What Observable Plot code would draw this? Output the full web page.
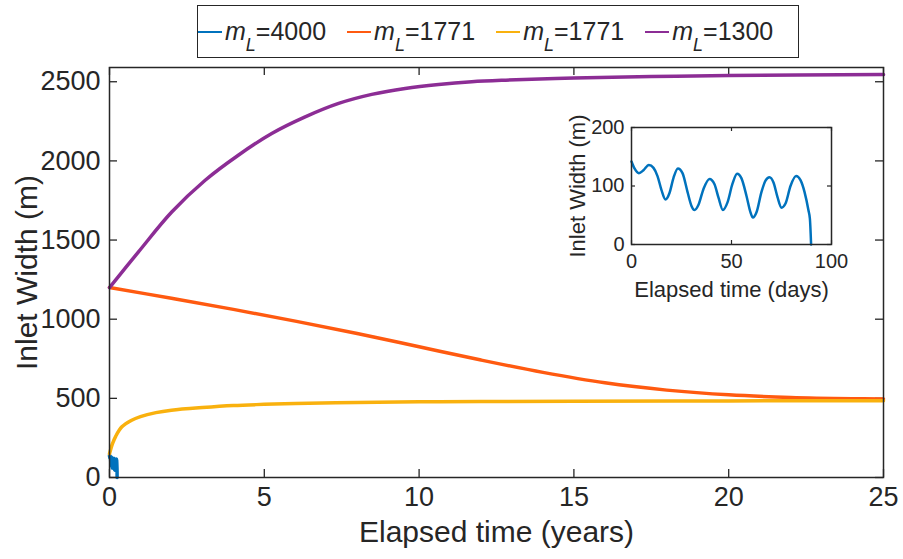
<!DOCTYPE html>
<html>
<head>
<meta charset="utf-8">
<script src="https://cdn.jsdelivr.net/npm/d3@7"></script>
<script src="https://cdn.jsdelivr.net/npm/@observablehq/plot@0.6"></script>
<style>
  body { margin: 0; background: #fff; font-family: "Liberation Sans", Arial, sans-serif; color: #262626; }
  #fig { position: relative; width: 903px; height: 559px; overflow: hidden; }
  #legendRow { position: relative; height: 62px; }
  #legend { position: absolute; left: 197px; top: 5px; width: 600px; height: 51px; border: 1.5px solid #262626;
            background: #fff; display: flex; align-items: center; font-size: 25px; white-space: nowrap; }
  .item { display: flex; align-items: center; margin-right: 21px; }
  .sw { display: inline-block; width: 24px; height: 2px; margin-right: 3px; }
  .item sub { font-style: italic; font-size: 18px; position: relative; top: 5px; vertical-align: sub; line-height: 0; }
  #inset { position: absolute; left: 560px; top: 110px; }
  svg { overflow: visible; }
</style>
</head>
<body>
<div id="fig">
  <div id="legendRow"><div id="legend"></div></div>
  <div id="main"></div>
  <div id="inset"></div>
</div>
<script>
// ---------- data ----------
const seriesNames = ["4000", "1771", "1771", "1300"];
const seriesColors = ["#0072BD", "#FF5A10", "#F9B10E", "#8C2D95"];

// m_L = 4000 (blue): elapsed time in days, inlet width (m)
const blueDays  = [0, 1.5, 3.7, 6, 8.7, 11, 13, 15, 17, 19, 21, 23.2, 25.5, 28, 30, 31.5, 33.5, 36, 39, 41.5, 43.5, 45.7, 48, 50.5, 52.8, 55, 57.5, 59.5, 60.7, 62.5, 65, 67, 69, 71, 73, 75, 77, 79.5, 82.3, 84.5, 86.5, 88.5, 89.2, 89.8];
const blueWidth = [142, 130, 122, 127, 136, 131, 117, 93, 77, 88, 114, 130, 122, 90, 66, 59, 68, 95, 112, 103, 80, 59, 72, 104, 121, 113, 83, 55, 46, 55, 90, 109, 115, 106, 81, 63, 70, 100, 117, 110, 90, 58, 44, 0];

// m_L = 1771 (orange): years, width
const orangeYears = [0, 2, 4, 6, 8, 10, 12, 14, 16, 18, 20, 22, 24, 25];
const orangeWidth = [1200, 1132, 1062, 988, 910, 826, 742, 664, 598, 552, 522, 506, 498, 496];

// m_L = 1771 (yellow): years, width
const yellowYears = [0, 0.1, 0.2, 0.4, 0.7, 1, 1.5, 2, 3, 4, 5, 6, 8, 10, 12, 15, 20, 25];
const yellowWidth = [150, 215, 260, 320, 360, 385, 410, 425, 442, 455, 462, 468, 474, 478, 480, 482, 484, 485];

// m_L = 1300 (purple): years, width
const purpleYears = [0, 0.93, 2.01, 3.09, 4.16, 5.24, 6.32, 7.4, 8.47, 9.55, 10.63, 11.7, 12.8, 15, 17.5, 20, 25];
const purpleWidth = [1200, 1424, 1677, 1878, 2036, 2173, 2278, 2363, 2420, 2458, 2483, 2500, 2510, 2524, 2533, 2539, 2545];

const xTicks = [0, 5, 10, 15, 20, 25];
const yTicks = [0, 500, 1000, 1500, 2000, 2500];
const insetXTicks = [0, 50, 100];
const insetYTicks = [0, 100, 200];

const xLabel = "Elapsed time (years)";
const yLabel = "Inlet Width (m)";
const insetXLabel = "Elapsed time (days)";
const insetYLabel = "Inlet Width (m)";

// ---------- tables ----------
const zip = (xs, ys) => xs.map((x, i) => ({t: x, w: ys[i]}));
const blueMain = blueDays.map((d, i) => ({t: d / 365.25, w: blueWidth[i]}));
const blueInset = zip(blueDays, blueWidth);
const orange = zip(orangeYears, orangeWidth);
const yellow = zip(yellowYears, yellowWidth);
const purple = zip(purpleYears, purpleWidth);

const axisColor = "#262626";
const fmt = d3.format("d");

// ---------- legend ----------
const legend = document.getElementById("legend");
seriesNames.forEach((n, i) => {
  const it = document.createElement("div");
  it.className = "item";
  it.innerHTML = `<span class="sw" style="background:${seriesColors[i]}"></span><span><i>m</i><sub>L</sub>=${n}</span>`;
  legend.appendChild(it);
});

// ---------- main plot ----------
const W = 903, H = 497, mT = 5, mL = 109, mR = 20, mB = 82;
const fw = W - mL - mR, fh = H - mT - mB;
const main = Plot.plot({
  width: W, height: H,
  marginTop: mT, marginLeft: mL, marginRight: mR, marginBottom: mB,
  x: {domain: [0, 25]},
  y: {domain: [0, 2590]},
  style: {fontFamily: "Liberation Sans, Arial, sans-serif", fontSize: "27px", color: axisColor, background: "transparent"},
  marks: [
    Plot.axisX(xTicks, {tickSize: 0, tickPadding: 9, fontSize: 27, label: null, tickFormat: fmt}),
    Plot.axisY(yTicks, {tickSize: 0, tickPadding: 9, fontSize: 27, label: null, tickFormat: fmt}),
    Plot.ruleX(xTicks, {x: d => d, insetTop: fh - 8, stroke: axisColor, strokeWidth: 1.3}),
    Plot.ruleX(xTicks, {x: d => d, insetBottom: fh - 8, stroke: axisColor, strokeWidth: 1.3}),
    Plot.ruleY(yTicks, {y: d => d, insetRight: fw - 8, stroke: axisColor, strokeWidth: 1.3}),
    Plot.ruleY(yTicks, {y: d => d, insetLeft: fw - 8, stroke: axisColor, strokeWidth: 1.3}),
    Plot.line(blueMain, {x: "t", y: "w", stroke: seriesColors[0], strokeWidth: 3.5, curve: "monotone-x"}),
    Plot.line(orange, {x: "t", y: "w", stroke: seriesColors[1], strokeWidth: 3.5, curve: "catmull-rom"}),
    Plot.line(yellow, {x: "t", y: "w", stroke: seriesColors[2], strokeWidth: 3.5, curve: "catmull-rom"}),
    Plot.line(purple, {x: "t", y: "w", stroke: seriesColors[3], strokeWidth: 3.5, curve: "catmull-rom"}),
    Plot.frame({stroke: axisColor, strokeWidth: 1.5}),
    Plot.text([xLabel], {text: d => d, frameAnchor: "bottom", dy: 64, fontSize: 30, fill: axisColor}),
    Plot.text([yLabel], {text: d => d, frameAnchor: "left", dx: -82, rotate: -90, textAnchor: "middle", fontSize: 30, fill: axisColor})
  ]
});
document.getElementById("main").appendChild(main);

// ---------- inset ----------
const iW = 290, iH = 200, imT = 17, imL = 71, imR = 19, imB = 66;
const ifw = iW - imL - imR, ifh = iH - imT - imB;
const inset = Plot.plot({
  width: iW, height: iH,
  marginTop: imT, marginLeft: imL, marginRight: imR, marginBottom: imB,
  x: {domain: [0, 100]},
  y: {domain: [0, 200]},
  style: {fontFamily: "Liberation Sans, Arial, sans-serif", fontSize: "20px", color: axisColor, background: "transparent"},
  marks: [
    Plot.axisX(insetXTicks, {tickSize: 0, tickPadding: 9, fontSize: 20, label: null, tickFormat: fmt}),
    Plot.axisY(insetYTicks, {tickSize: 0, tickPadding: 7, fontSize: 20, label: null, tickFormat: fmt}),
    Plot.ruleX(insetXTicks, {x: d => d, insetTop: ifh - 4, stroke: axisColor, strokeWidth: 1.2}),
    Plot.ruleX(insetXTicks, {x: d => d, insetBottom: ifh - 4, stroke: axisColor, strokeWidth: 1.2}),
    Plot.ruleY(insetYTicks, {y: d => d, insetRight: ifw - 4, stroke: axisColor, strokeWidth: 1.2}),
    Plot.ruleY(insetYTicks, {y: d => d, insetLeft: ifw - 4, stroke: axisColor, strokeWidth: 1.2}),
    Plot.line(blueInset, {x: "t", y: "w", stroke: seriesColors[0], strokeWidth: 2.5, curve: "monotone-x"}),
    Plot.frame({stroke: axisColor, strokeWidth: 1.5}),
    Plot.text([insetXLabel], {text: d => d, frameAnchor: "bottom", dy: 52, fontSize: 22, fill: axisColor}),
    Plot.text([insetYLabel], {text: d => d, frameAnchor: "left", dx: -54, rotate: -90, textAnchor: "middle", fontSize: 22, fill: axisColor})
  ]
});
document.getElementById("inset").appendChild(inset);
</script>
</body>
</html>
